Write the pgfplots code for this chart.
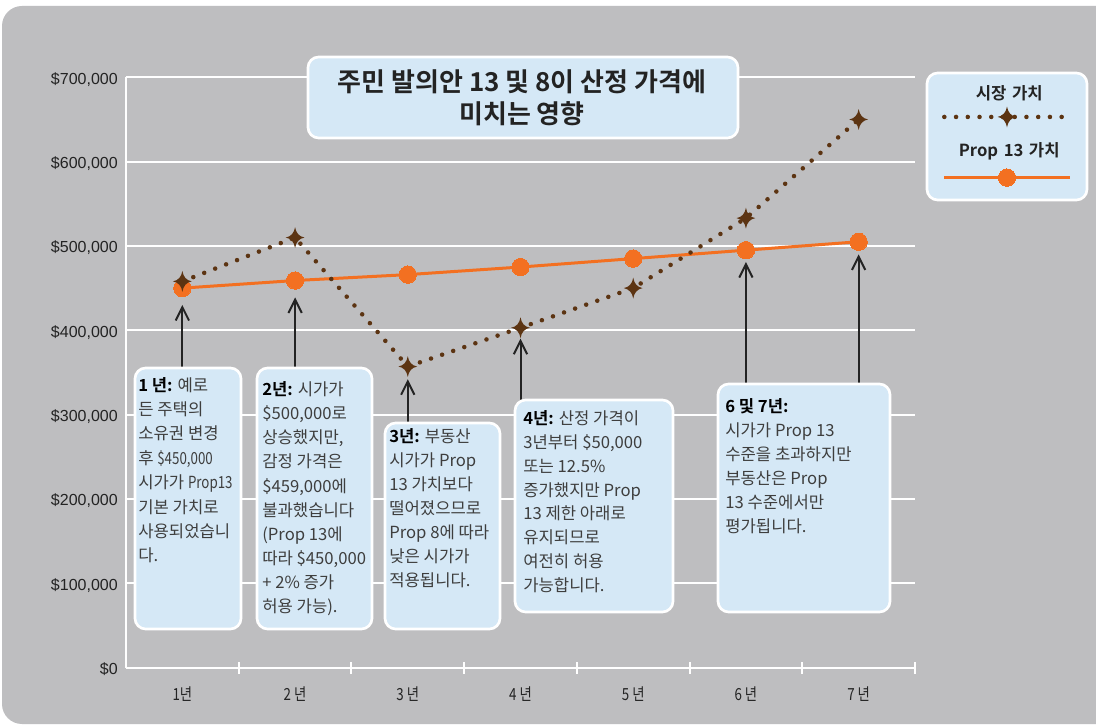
\documentclass[border=0pt]{standalone}
\usepackage{pgfplots}
\pgfplotsset{compat=1.18}
\usepackage{fontspec}
\setmainfont{Noto Sans CJK KR}[BoldFont={Noto Sans CJK KR Bold}]
\newfontfamily\arialf{Liberation Sans}
\newfontfamily\condf[FakeStretch=0.8]{Noto Sans CJK KR}
\usetikzlibrary{arrows.meta}
\definecolor{bg}{RGB}{190,190,192}
\definecolor{boxblue}{RGB}{213,232,246}
\definecolor{brownc}{RGB}{92,52,18}
\definecolor{orangec}{RGB}{243,112,33}
\definecolor{txt}{RGB}{62,62,62}
\definecolor{darktxt}{RGB}{35,35,35}

\pgfdeclareplotmark{star4}{%
  \pgfpathmoveto{\pgfqpoint{0pt}{\pgfplotmarksize}}%
  \pgfpathquadraticcurveto{\pgfqpoint{0.14\pgfplotmarksize}{0.14\pgfplotmarksize}}{\pgfqpoint{0.9\pgfplotmarksize}{0pt}}%
  \pgfpathquadraticcurveto{\pgfqpoint{0.14\pgfplotmarksize}{-0.14\pgfplotmarksize}}{\pgfqpoint{0pt}{-\pgfplotmarksize}}%
  \pgfpathquadraticcurveto{\pgfqpoint{-0.14\pgfplotmarksize}{-0.14\pgfplotmarksize}}{\pgfqpoint{-0.9\pgfplotmarksize}{0pt}}%
  \pgfpathquadraticcurveto{\pgfqpoint{-0.14\pgfplotmarksize}{0.14\pgfplotmarksize}}{\pgfqpoint{0pt}{\pgfplotmarksize}}%
  \pgfpathclose\pgfusepathqfill}

\pgfplotsset{
  legA/.style={legend image code/.code={\path (0pt,0pt); \draw[overlay,mark repeat=2,mark phase=2,##1] plot coordinates {(0pt,-19.5pt) (47pt,-19.5pt) (94pt,-19.5pt)};}},
  legB/.style={legend image code/.code={\path (0pt,0pt); \draw[overlay,mark repeat=2,mark phase=2,##1] plot coordinates {(0pt,-16.5pt) (47pt,-16.5pt) (94pt,-16.5pt)};}},
}

\begin{document}
\begin{tikzpicture}
\useasboundingbox (0,0) rectangle (822pt,543.75pt);
\begin{scope}[x=0.75pt,y=-0.75pt,shift={(0pt,543.75pt)}]
  \fill[white] (0,0) rectangle (1096,725);
  \fill[bg, rounded corners=15pt] (2,6) rectangle (1140,724);
  \filldraw[fill=boxblue, draw=white, line width=2pt, rounded corners=8pt] (927,73) rectangle (1087,200);
\end{scope}

\begin{axis}[
  at={(94.5pt,43.1pt)}, anchor=south west, scale only axis,
  width=591.75pt, height=442.65pt,
  xmin=0.5, xmax=7.5, ymin=0, ymax=700000,
  axis lines*=left, axis line style={-, white, line width=1.5pt},
  xtick={1,...,7},
  xticklabels={1년, 2 년, 3 년, 4 년, 5 년, 6 년, 7 년},
  minor xtick={1.5,2.5,...,7.5},
  major tick length=0pt, minor tick length=9pt, tick align=center,
  tick style={white, line width=1.5pt},
  ytick={0,100000,...,700000},
  yticklabels={\$0,{\$100,000},{\$200,000},{\$300,000},{\$400,000},{\$500,000},{\$600,000},{\$700,000}},
  scaled y ticks=false,
  ymajorgrids, major grid style={white, line width=1.5pt},
  yticklabel style={font=\arialf\fontsize{12}{14}\selectfont, text=darktxt, anchor=east, inner sep=0pt, xshift=-6pt, yshift=-1.5pt},
  xticklabel style={font=\condf\fontsize{12.5}{14}\selectfont, text=darktxt, anchor=north, inner sep=0pt, yshift=-14pt},
  clip=false,
  legend cell align=left, reverse legend,
  legend style={at={(rel axis cs:1.1166,0.9853)}, anchor=north, draw=none, fill=none, inner sep=0pt, row sep=29.5pt, column sep=0pt,
    font=\bfseries\fontsize{12.5}{14}\selectfont,
    nodes={inner sep=0pt, text width=94pt, align=center, text height=10pt, text depth=3pt, text=darktxt}},
]
\addplot[orangec, line width=2.25pt, mark=*, mark size=6.5pt, mark options={solid, fill=orangec, draw=orangec, line width=0pt}, legA]
  coordinates {(1,450000) (2,459000) (3,466000) (4,475000) (5,485000) (6,495000) (7,505000)};
\addlegendentry{Prop 13 가치}
\addplot[brownc, line width=3.4pt, line cap=round, dash pattern=on 0pt off 8.8pt, mark=star4, mark size=7.8pt, mark options={solid, fill=brownc}, legB]
  coordinates {(1,458000) (2,510000) (3,357000) (4,403000) (5,450000) (6,533000) (7,650000)};
\addlegendentry{시장 가치}

\draw[darktxt, line width=1.5pt, -{Straight Barb[length=10pt,width=10pt]}] (axis cs:1,355000) -- (axis cs:1,430000);
\draw[darktxt, line width=1.5pt, -{Straight Barb[length=10pt,width=10pt]}] (axis cs:2,355000) -- (axis cs:2,439000);
\draw[darktxt, line width=1.5pt, -{Straight Barb[length=10pt,width=10pt]}] (axis cs:3,290000) -- (axis cs:3,342000);
\draw[darktxt, line width=1.5pt, -{Straight Barb[length=10pt,width=10pt]}] (axis cs:4,317000) -- (axis cs:4,390000);
\draw[darktxt, line width=1.5pt, -{Straight Barb[length=10pt,width=10pt]}] (axis cs:6,336000) -- (axis cs:6,481000);
\draw[darktxt, line width=1.5pt, -{Straight Barb[length=10pt,width=10pt]}] (axis cs:7,336000) -- (axis cs:7,490000);
\end{axis}

\begin{scope}[x=0.75pt,y=-0.75pt,shift={(0pt,543.75pt)}]
  \tikzset{abox/.style={fill=boxblue, draw=white, line width=2pt, rounded corners=8pt},
           btxt/.style={anchor=base west, align=left, inner sep=0pt, text=txt}}
  \path[abox] (308,57) rectangle (738,138);
  \node[font=\bfseries\fontsize{19.5}{23.7}\selectfont, align=center, text=darktxt] at (522,97.5) {주민 발의안 13 및 8이 산정 가격에\\미치는 영향};

  \path[abox] (135,368) rectangle (241,629);
  \node[btxt, font=\fontsize{12.5}{18.3}\selectfont] at (138,562) {\textbf{\color{black}1 년:} 예로\\든 주택의\\소유권 변경\\후 {\condf\$450,000}\\시가가 {\condf Prop13}\\기본 가치로\\사용되었습니\\다.};

  \path[abox] (257,368) rectangle (372,629);
  \node[btxt, font=\fontsize{12.5}{18.1}\selectfont] at (262,612.7) {\textbf{\color{black}2년:} 시가가\\\$500,000로\\상승했지만,\\감정 가격은\\\$459,000에\\불과했습니다\\(Prop 13에\\따라 \$450,000\\+ 2\% 증가\\허용 가능).};

  \path[abox] (385,423) rectangle (500,629);
  \node[btxt, font=\fontsize{12.5}{17.9}\selectfont] at (389,586.1) {\textbf{\color{black}3년:} 부동산\\시가가 Prop\\13 가치보다\\떨어졌으므로\\Prop 8에 따라\\낮은 시가가\\적용됩니다.};

  \path[abox] (515,400) rectangle (673,612);
  \node[btxt, font=\fontsize{12.5}{17.9}\selectfont] at (523,591.6) {\textbf{\color{black}4년:} 산정 가격이\\3년부터 \$50,000\\또는 12.5\%\\증가했지만 Prop\\13 제한 아래로\\유지되므로\\여전히 허용\\가능합니다.};

  \path[abox] (718,384) rectangle (890,612);
  \node[btxt, font=\fontsize{12.5}{18}\selectfont] at (725,532.9) {\textbf{\color{black}6 및 7년:}\\시가가 Prop 13\\수준을 초과하지만\\부동산은 Prop\\13 수준에서만\\평가됩니다.};
\end{scope}
\end{tikzpicture}
\end{document}
